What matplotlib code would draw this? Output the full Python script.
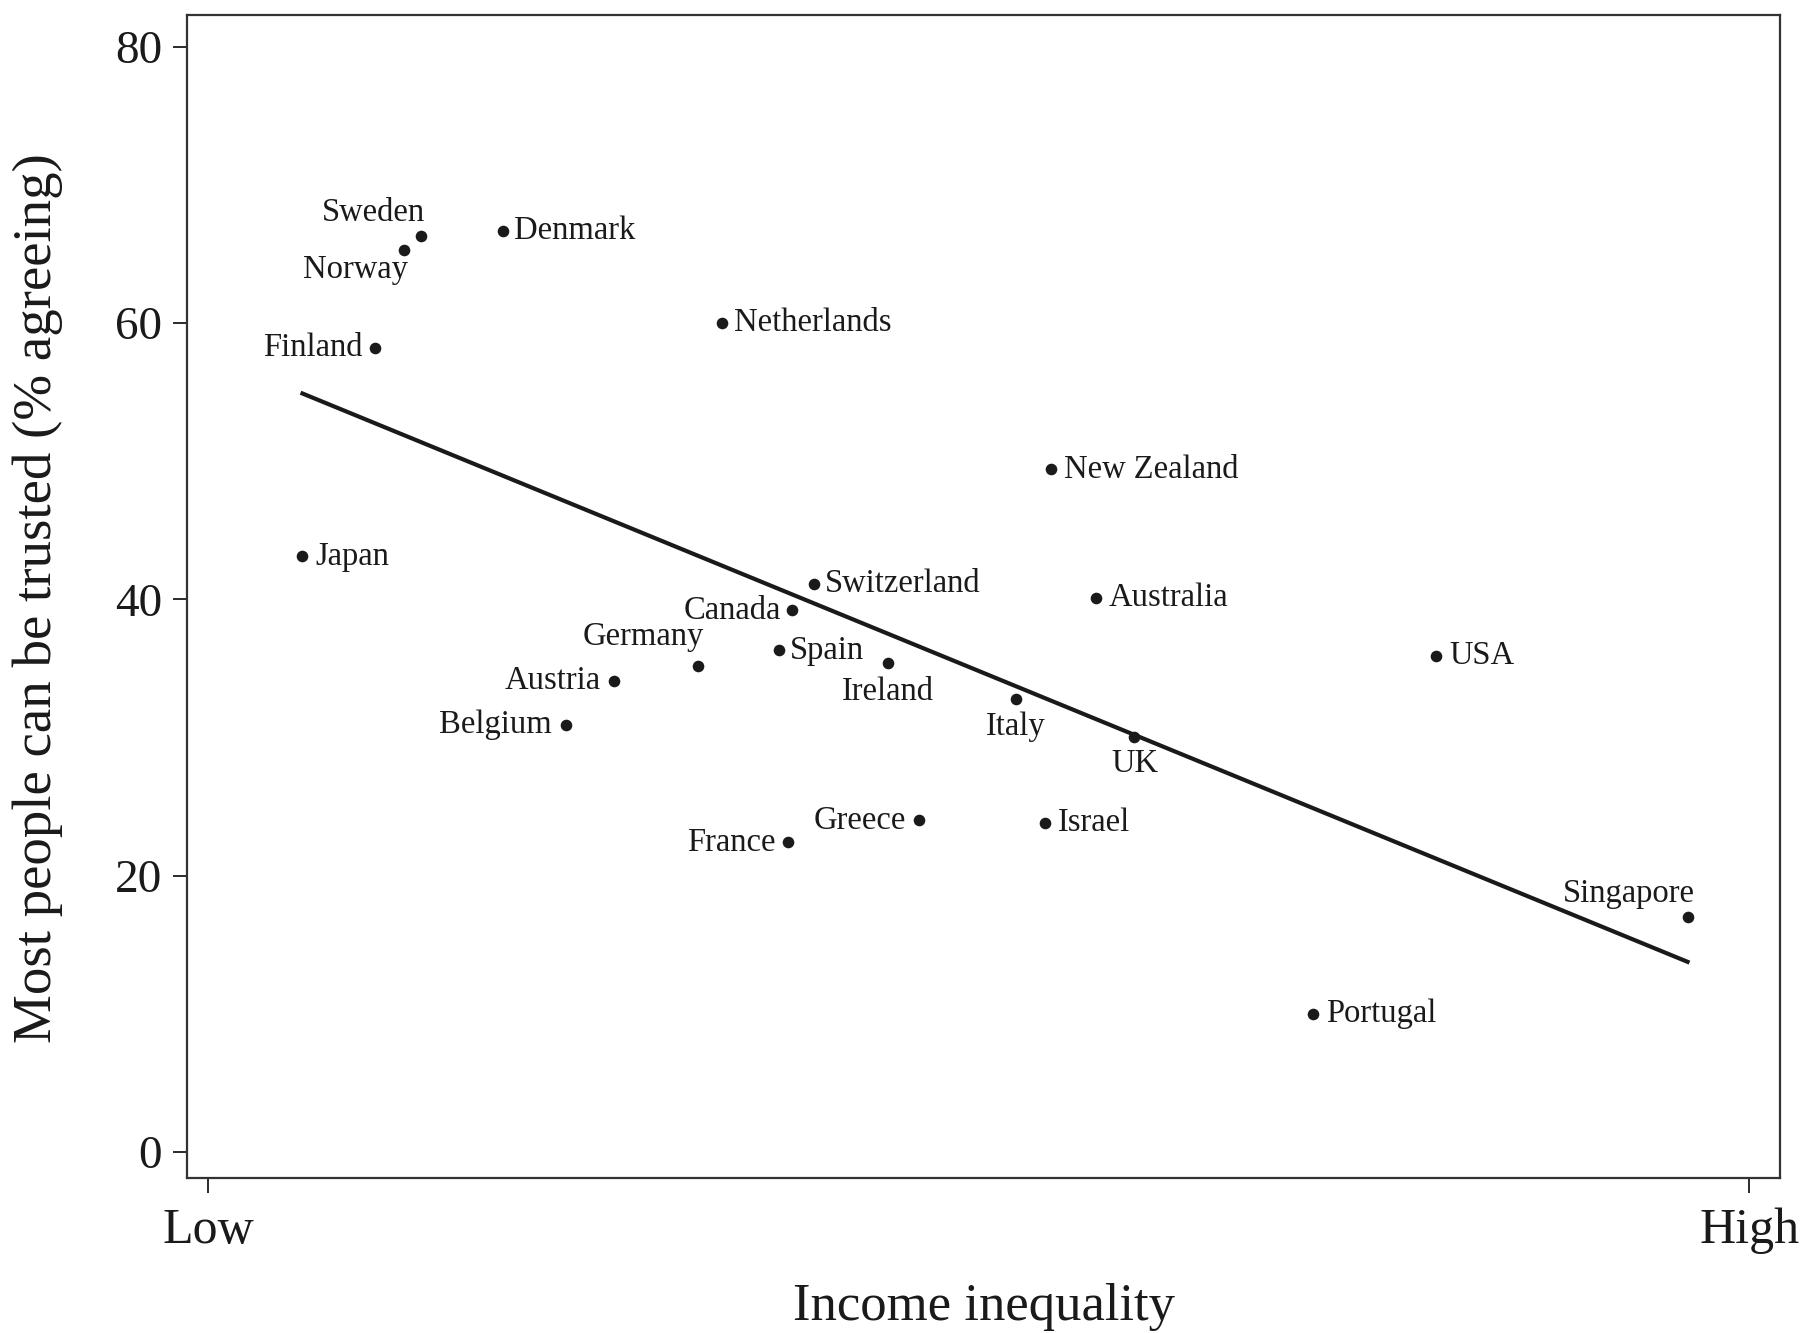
import numpy as np
import matplotlib.pyplot as plt

# data (x: position on a Low..High inequality scale 0-100)
countries = ['Sweden', 'Norway', 'Denmark', 'Finland', 'Netherlands', 'Japan',
             'New Zealand', 'Switzerland', 'Canada', 'Australia', 'Germany',
             'Spain', 'Ireland', 'Austria', 'Belgium', 'Italy', 'UK', 'USA',
             'Greece', 'Israel', 'France', 'Portugal', 'Singapore']
inequality = [13.8, 12.7, 19.1, 10.8, 33.3, 6.1,
              54.7, 39.3, 37.9, 57.6, 31.8,
              37.0, 44.1, 26.3, 23.2, 52.4, 60.1, 79.7,
              46.1, 54.3, 37.6, 71.7, 96.0]
trust = [66.3, 65.3, 66.7, 58.2, 60.0, 43.1,
         49.4, 41.1, 39.2, 40.1, 35.2,
         36.3, 35.4, 34.1, 30.9, 32.75, 30.0, 35.9,
         24.0, 23.8, 22.4, 10.0, 17.0]

# regression line end points
fit_x = [6.1, 96.0]
fit_y = [54.9, 13.75]

y_ticks = [0, 20, 40, 60, 80]
x_ticks = [0, 100]
x_tick_labels = ['Low', 'High']

# label placement: (dx pt, dy pt, ha)
label_pos = {
    'Sweden': (3, 17, 'right'), 'Norway': (3, -14, 'right'),
    'Denmark': (8, 0, 'left'), 'Finland': (-9, 0, 'right'),
    'Netherlands': (9, 0, 'left'), 'Japan': (9, 0, 'left'),
    'New Zealand': (9, 0, 'left'), 'Switzerland': (8, 0, 'left'),
    'Canada': (-8, 0, 'right'), 'Australia': (9, 0, 'left'),
    'Germany': (4, 21, 'right'), 'Spain': (8, 0, 'left'),
    'Ireland': (0, -21, 'center'), 'Austria': (-9, 0, 'right'),
    'Belgium': (-10, 0, 'right'), 'Italy': (0, -20, 'center'),
    'UK': (0, -19, 'center'), 'USA': (9, 0, 'left'),
    'Greece': (-9, 0, 'right'), 'Israel': (9, 0, 'left'),
    'France': (-9, 0, 'right'), 'Portugal': (9, 0, 'left'),
    'Singapore': (5, 17, 'right'),
}

plt.rcParams['font.family'] = ['Liberation Serif', 'DejaVu Serif']
ink = '#1a1a1a'

fig = plt.figure(figsize=(18.06, 13.33), dpi=100)
ax = fig.add_axes([0.1035, 0.1163, 0.8821, 0.8724])

ax.scatter(inequality, trust, s=70, color=ink, zorder=3, linewidths=0)
ax.plot(fit_x, fit_y, color=ink, lw=3.0, zorder=2)

for name, x, y in zip(countries, inequality, trust):
    dx, dy, ha = label_pos[name]
    ax.annotate(name, (x, y), xytext=(dx, dy), textcoords='offset points',
                ha=ha, va='center', fontsize=23.5, color=ink)

ax.set_xlim(-1.4, 102.0)
ax.set_ylim(-1.9, 82.3)
ax.set_yticks(y_ticks)
ax.set_yticklabels([str(t) for t in y_ticks])
ax.set_xticks(x_ticks)
ax.set_xticklabels(x_tick_labels)
ax.tick_params(axis='y', length=10, width=1.3, pad=8, labelsize=34, colors=ink)
ax.tick_params(axis='x', length=11, width=1.3, pad=10, labelsize=36, colors=ink)
for sp in ax.spines.values():
    sp.set_linewidth(1.6)
    sp.set_color('#333333')

fig.text(0.021, 0.551, 'Most people can be trusted (% agreeing)', rotation=90,
         ha='center', va='center', fontsize=39.5, color=ink)
fig.text(0.5446, 0.0195, 'Income inequality', ha='center', va='center',
         fontsize=38, color=ink)

fig.savefig('out.png', dpi=100)
